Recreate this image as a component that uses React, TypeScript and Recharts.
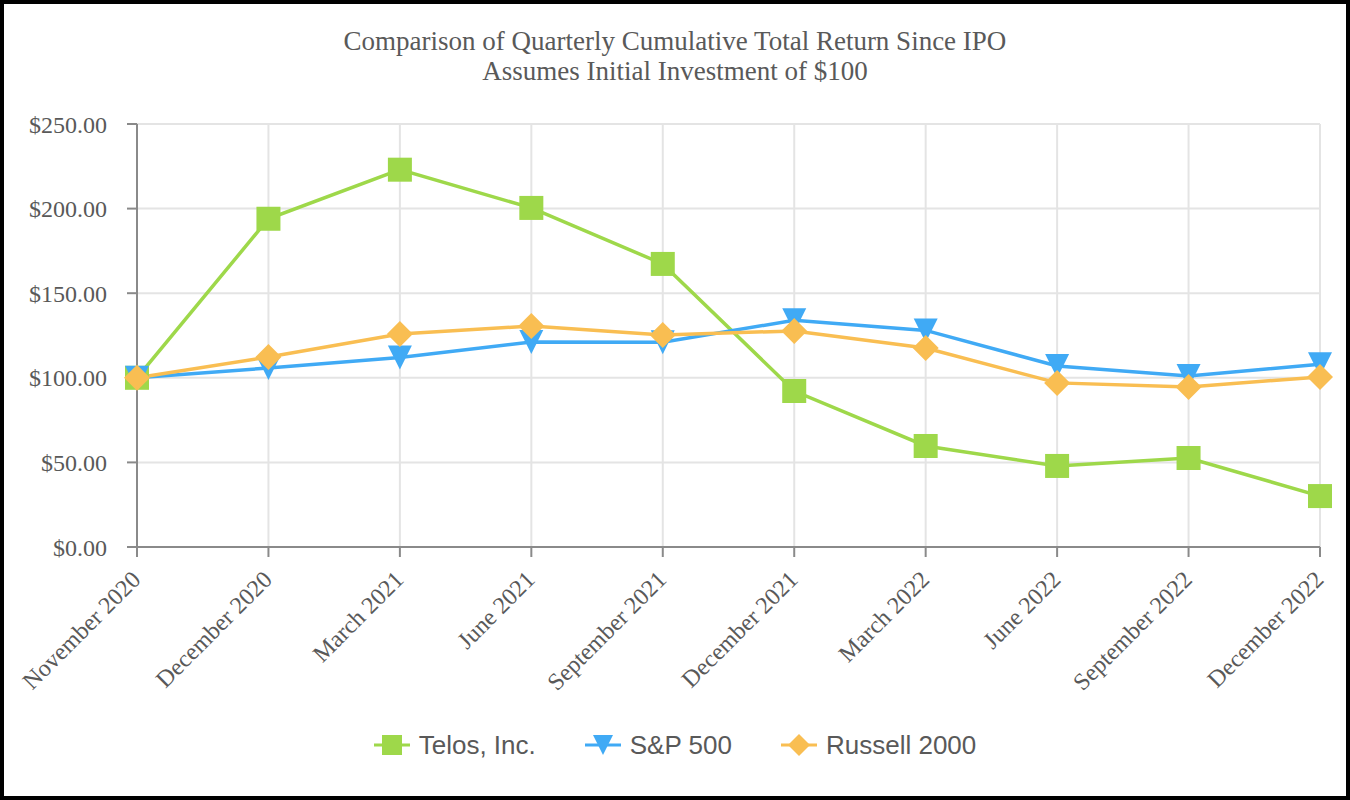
import React from 'react';
import { LineChart, Line, XAxis, YAxis, CartesianGrid, Legend } from 'recharts';

const quarters = [
  'November 2020',
  'December 2020',
  'March 2021',
  'June 2021',
  'September 2021',
  'December 2021',
  'March 2022',
  'June 2022',
  'September 2022',
  'December 2022',
];
const telos = [100, 194, 223, 200.4, 167.3, 92.2, 59.7, 47.9, 52.6, 30.1];
const sp500 = [100, 105.8, 112, 121.2, 121, 134, 128, 107, 101, 108];
const russell = [100, 112.3, 125.9, 130.6, 125.3, 127.7, 117.6, 97, 94.6, 100.5];
const yTicks = [0, 50, 100, 150, 200, 250];

const GREEN = '#9ed84a';
const BLUE = '#40aaf5';
const ORANGE = '#f9be52';
const TEXT = '#595959';
const AXIS = '#8a8a8a';
const SERIF = '"Liberation Serif", "Times New Roman", serif';

const data = quarters.map((q, i) => ({
  quarter: q,
  telos: telos[i],
  sp500: sp500[i],
  russell: russell[i],
}));

type Shape = 'square' | 'triangle' | 'diamond';

function marker(shape: Shape, color: string, cx: number, cy: number, r: number, key?: any) {
  if (shape === 'square') {
    return <rect key={key} x={cx - r} y={cy - r} width={r * 2} height={r * 2} fill={color} />;
  }
  if (shape === 'triangle') {
    return (
      <polygon
        key={key}
        points={`${cx - r},${cy - r} ${cx + r},${cy - r} ${cx},${cy + r}`}
        fill={color}
      />
    );
  }
  return (
    <polygon
      key={key}
      points={`${cx},${cy - r - 1} ${cx + r + 1},${cy} ${cx},${cy + r + 1} ${cx - r - 1},${cy}`}
      fill={color}
    />
  );
}

const legendItems: { name: string; color: string; shape: Shape }[] = [
  { name: 'Telos, Inc.', color: GREEN, shape: 'square' },
  { name: 'S&P 500', color: BLUE, shape: 'triangle' },
  { name: 'Russell 2000', color: ORANGE, shape: 'diamond' },
];

function LegendContent() {
  return (
    <div
      style={{
        display: 'flex',
        justifyContent: 'center',
        alignItems: 'center',
        height: 40,
        gap: 49,
        fontFamily: '"Liberation Sans", Arial, sans-serif',
        fontSize: 26,
        color: TEXT,
      }}
    >
      {legendItems.map((it) => (
        <div key={it.name} style={{ display: 'flex', alignItems: 'center' }}>
          <svg width={36} height={28} style={{ marginRight: 9 }}>
            <line x1={0} y1={14} x2={36} y2={14} stroke={it.color} strokeWidth={3} />
            {marker(it.shape, it.color, 18, 14, 10)}
          </svg>
          <span>{it.name}</span>
        </div>
      ))}
    </div>
  );
}

function XTick(props: any) {
  const { x, y, payload } = props;
  return (
    <g transform={`translate(${x + 5},${y + 22})`}>
      <text x={0} y={0} textAnchor="end" transform="rotate(-45)" fill={TEXT} fontSize={24} fontFamily={SERIF}>
        {payload.value}
      </text>
    </g>
  );
}

export default function App() {
  return (
    <div style={{ position: 'absolute', left: 0, top: 0, width: 1350, height: 800, background: '#fff' }}>
      <div
        style={{
          position: 'absolute',
          left: 0,
          top: 26,
          width: 1350,
          textAlign: 'center',
          fontFamily: SERIF,
          fontSize: 27,
          lineHeight: '30px',
          color: TEXT,
        }}
      >
        <div>Comparison of Quarterly Cumulative Total Return Since IPO</div>
        <div>Assumes Initial Investment of $100</div>
      </div>
      <LineChart width={1350} height={800} data={data} margin={{ top: 124, right: 30, bottom: 0, left: 0 }}>
        <CartesianGrid stroke="#e4e4e4" strokeWidth={2} />
        <XAxis
          dataKey="quarter"
          height={213}
          interval={0}
          tickSize={10}
          stroke={AXIS}
          strokeWidth={2}
          tick={<XTick />}
        />
        <YAxis
          width={137}
          domain={[0, 250]}
          ticks={yTicks}
          tickFormatter={(v: number) => `$${v.toFixed(2)}`}
          tickSize={10}
          tickMargin={20}
          stroke={AXIS}
          strokeWidth={2}
          tick={{ fill: TEXT, fontSize: 24, fontFamily: SERIF }}
        />
        <Legend
          verticalAlign="bottom"
          content={() => <LegendContent />}
          wrapperStyle={{ left: 0, width: 1350, top: 725, bottom: 'auto', height: 40 }}
        />
        <Line
          dataKey="telos"
          name="Telos, Inc."
          stroke={GREEN}
          strokeWidth={3.5}
          isAnimationActive={false}
          dot={(p: any) => marker('square', GREEN, p.cx, p.cy, 12, p.index)}
        />
        <Line
          dataKey="sp500"
          name="S&P 500"
          stroke={BLUE}
          strokeWidth={3.5}
          isAnimationActive={false}
          dot={(p: any) => marker('triangle', BLUE, p.cx, p.cy, 12, p.index)}
        />
        <Line
          dataKey="russell"
          name="Russell 2000"
          stroke={ORANGE}
          strokeWidth={3.5}
          isAnimationActive={false}
          dot={(p: any) => marker('diamond', ORANGE, p.cx, p.cy, 12, p.index)}
        />
      </LineChart>
      <div
        style={{
          position: 'absolute',
          left: 0,
          top: 0,
          width: 1350,
          height: 800,
          boxSizing: 'border-box',
          border: '4px solid #000',
          pointerEvents: 'none',
        }}
      />
    </div>
  );
}
